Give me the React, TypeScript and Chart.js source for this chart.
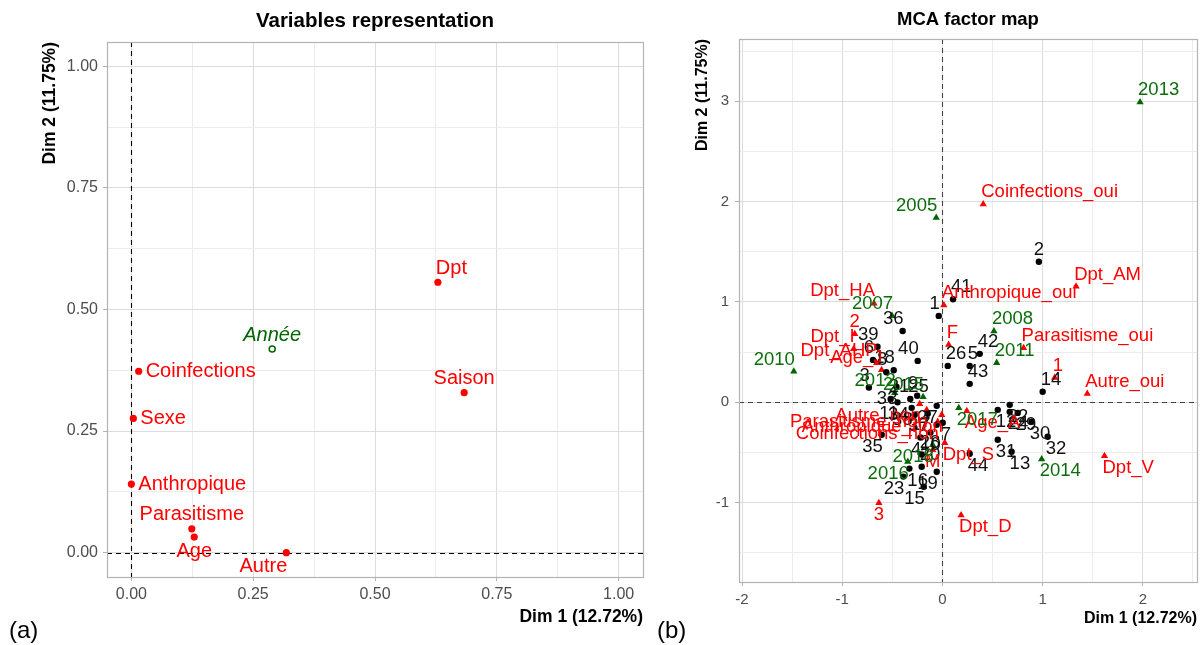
import React, { useEffect, useRef } from 'react';
import { Chart, registerables } from 'chart.js';

Chart.register(...registerables);

const FONT = '"Liberation Sans", Arial, Helvetica, sans-serif';

// ---------- Panel (a): Variables representation ----------
const varNames = ['Dpt', 'Saison', 'Coinfections', 'Sexe', 'Anthropique', 'Parasitisme', 'Age', 'Autre'];
const varDim1 = [0.629, 0.683, 0.015, 0.004, 0.0, 0.124, 0.129, 0.318];
const varDim2 = [0.556, 0.329, 0.373, 0.276, 0.141, 0.049, 0.032, 0.0];
const varLabelDir = ['tr', 't', 'r', 'r', 'r', 't', 'b', 'bl'];

const suppVarNames = ['Année'];
const suppVarDim1 = [0.289];
const suppVarDim2 = [0.419];
const suppVarLabelDir = ['t'];

const aMajorTicks = [0, 0.25, 0.5, 0.75, 1];
const aMinorTicks = [0.125, 0.375, 0.625, 0.875];

// ---------- Panel (b): MCA factor map ----------
const indNames = [
  '1', '2', '3', '4', '5', '6', '7', '8', '9', '10', '11', '12', '13', '14', '15', '16', '17', '18', '19', '20', '21', '22',
  '23', '24', '25', '26', '27', '28', '29', '30', '31', '32', '33', '34', '35', '36', '37', '38', '39', '40', '41', '42', '43', '44',
];
const indDim1 = [
  -0.037, 0.962, -0.734, -0.22, 0.272, -0.693, 0.003, -0.56, -0.252, -0.12, -0.448, 0.552, 0.69, 1.0, -0.187, -0.33, -0.058, -0.486,
  -0.057, -0.207, -0.517, 0.671, -0.39, 0.671, -0.321, 0.053, -0.057, -0.207, 0.751, 0.89, 0.552, 1.05, -0.459, -0.277, -0.606,
  -0.397, -0.147, -0.307, -0.648, -0.247, 0.106, 0.372, 0.272, 0.272,
];
const indDim2 = [
  0.861, 1.4, 0.148, -0.35, 0.363, 0.423, -0.204, 0.3, 0.066, -0.3, 0.0, -0.075, -0.493, 0.105, -0.841, -0.66, -0.224, 0.32,
  -0.692, -0.642, 0.033, -0.025, -0.74, -0.095, 0.033, 0.363, -0.035, -0.52, -0.105, -0.194, -0.373, -0.343, 0.156, -0.124, -0.323,
  0.711, -0.114, -0.055, 0.554, 0.413, 1.027, 0.483, 0.184, -0.512,
];
const indLabelDir = [
  'tl', 't', 'tl', 'bl', 'tr', 'tl', 'br', 'tl', 'tl', 'b', 'bl', 'br', 'br', 'tr', 'bl', 'br', 'l', 'tl', 'bl', 'tr', 'tr', 'br',
  'bl', 'br', 'tr', 'tr', 'bl', 'tr', 'br', 'br', 'br', 'br', 'bl', 'l', 'bl', 'tl', 'bl', 'bl', 'tl', 'tl', 'tr', 'tr', 'tr', 'br',
];

const catNames = [
  'Coinfections_oui', 'Dpt_AM', 'Anthropique_oui', 'F', 'Parasitisme_oui', '1', 'Autre_oui', 'Dpt_V', 'Dpt_D', 'Dpt_S', 'Age_A',
  '3', 'M', 'Dpt_HA', '2', 'Dpt_I', 'Dpt_AHP', 'Age_J', 'Autre_non', 'Parasitisme_non', 'Anthropique_non', 'Coinfections_non',
];
const catDim1 = [
  0.407, 1.334, 0.014, 0.062, 0.81, 1.12, 1.445, 1.617, 0.186, 0.023, 0.243, -0.634, -0.097, -0.683, -0.875, -0.886, -0.657, -0.607,
  -0.227, -0.157, -0.007, -0.047,
];
const catDim2 = [
  1.975, 1.154, 0.969, 0.575, 0.542, 0.246, 0.086, -0.534, -1.125, -0.403, -0.085, -1.002, -0.473, 0.986, 0.682, 0.532, 0.393, 0.323,
  -0.015, -0.075, -0.124, -0.194,
];
const catLabelDir = [
  'tr', 'tr', 'tr', 'tr', 'tr', 'tr', 'tr', 'br', 'br', 'br', 'br', 'b', 'b', 'tl', 't', 'tl', 'tl', 'tl', 'bl', 'bl', 'bl', 'bl',
];

const yearNames = ['2013', '2005', '2007', '2008', '2011', '2010', '2014', '2017', '2018', '2016', '2015', '2012'];
const yearDim1 = [1.972, -0.062, -0.503, 0.514, 0.541, -1.483, 0.99, 0.163, -0.097, -0.346, -0.193, -0.476];
const yearDim2 = [2.99, 1.84, 0.862, 0.71, 0.394, 0.308, -0.567, -0.055, -0.423, -0.592, 0.053, 0.094];
const yearLabelDir = ['tr', 'tl', 'tl', 'tr', 'tr', 'tl', 'br', 'br', 'bl', 'bl', 'tl', 'tl'];

const bXMajorTicks = [-2, -1, 0, 1, 2];
const bXMinorTicks = [-1.5, -0.5, 0.5, 1.5, 2.5];
const bYMajorTicks = [-1, 0, 1, 2, 3];
const bYMinorTicks = [-1.5, -0.5, 0.5, 1.5, 2.5, 3.5];

// ---------- helpers ----------
const toPoints = (xs: number[], ys: number[]) => xs.map((x, i) => ({ x, y: ys[i] }));

function drawLabel(ctx: CanvasRenderingContext2D, text: string, x: number, y: number, dir: string, off: number, gap: number) {
  let align: CanvasTextAlign = 'left';
  let tx = x;
  let ty = y;
  switch (dir) {
    case 't': align = 'center'; ty = y - off; break;
    case 'b': align = 'center'; ty = y + off; break;
    case 'tr': align = 'left'; tx = x - 2; ty = y - off; break;
    case 'tl': align = 'right'; tx = x + 1; ty = y - off; break;
    case 'br': align = 'left'; tx = x - 2; ty = y + off; break;
    case 'bl': align = 'right'; tx = x + 1; ty = y + off; break;
    case 'r': align = 'left'; tx = x + gap; break;
    case 'l': align = 'right'; tx = x - gap; break;
  }
  ctx.textAlign = align;
  ctx.textBaseline = 'middle';
  ctx.fillText(text, tx, ty);
}

const labelPlugin = {
  id: 'pointLabels',
  afterDatasetsDraw(chart: any) {
    const ctx = chart.ctx as CanvasRenderingContext2D;
    ctx.save();
    chart.data.datasets.forEach((ds: any, i: number) => {
      const cfg = ds.labelCfg;
      if (!cfg) return;
      const meta = chart.getDatasetMeta(i);
      ctx.fillStyle = cfg.color;
      ctx.font = cfg.font;
      meta.data.forEach((el: any, j: number) => {
        drawLabel(ctx, cfg.texts[j], el.x, el.y, cfg.dirs[j], cfg.off, cfg.gap);
      });
    });
    ctx.restore();
  },
};

function makeDecoPlugin(o: any) {
  return {
    id: 'deco',
    beforeDraw(chart: any) {
      const ctx = chart.ctx;
      ctx.save();
      ctx.fillStyle = '#ffffff';
      ctx.fillRect(0, 0, chart.width, chart.height);
      ctx.restore();
    },
    beforeDatasetsDraw(chart: any) {
      const ctx = chart.ctx as CanvasRenderingContext2D;
      const a = chart.chartArea;
      const x0 = Math.round(chart.scales.x.getPixelForValue(0)) + 0.5;
      const y0 = Math.round(chart.scales.y.getPixelForValue(0)) + 0.5;
      ctx.save();
      ctx.strokeStyle = o.dashColor;
      ctx.lineWidth = 1.1;
      ctx.setLineDash([5, 4]);
      ctx.beginPath();
      ctx.moveTo(x0, a.top);
      ctx.lineTo(x0, a.bottom);
      ctx.moveTo(a.left, y0);
      ctx.lineTo(a.right, y0);
      ctx.stroke();
      ctx.restore();
    },
    afterDraw(chart: any) {
      const ctx = chart.ctx as CanvasRenderingContext2D;
      const a = chart.chartArea;
      ctx.save();
      ctx.strokeStyle = '#B3B3B3';
      ctx.lineWidth = 1.2;
      ctx.strokeRect(Math.round(a.left) + 0.5, Math.round(a.top) + 0.5, Math.round(a.right - a.left), Math.round(a.bottom - a.top));
      ctx.fillStyle = '#000000';
      ctx.font = `bold ${o.titleSize}px ${FONT}`;
      ctx.textAlign = 'center';
      ctx.textBaseline = 'middle';
      ctx.fillText(o.title, (a.left + a.right) / 2, o.titleY);
      ctx.font = `bold ${o.axisTitleSize}px ${FONT}`;
      ctx.textAlign = 'right';
      ctx.fillText(o.xTitle, a.right, o.xTitleY);
      ctx.translate(o.yTitleX, a.top);
      ctx.rotate(-Math.PI / 2);
      ctx.textAlign = 'right';
      ctx.fillText(o.yTitle, 0, 0);
      ctx.restore();
    },
  };
}

function axis(min: number, max: number, major: number[], minor: number[], fmt: (v: number) => string, fontSize: number, pad: number, fit: (s: any) => void) {
  const all = [...major, ...minor].sort((p, q) => p - q);
  const isMajor = (v: any) => major.indexOf(v) >= 0;
  return {
    type: 'linear',
    min,
    max,
    afterBuildTicks: (s: any) => {
      s.ticks = all.map((v) => ({ value: v }));
    },
    afterFit: fit,
    ticks: {
      autoSkip: false,
      maxRotation: 0,
      minRotation: 0,
      padding: pad,
      color: '#4D4D4D',
      font: { family: FONT, size: fontSize },
      callback: (v: any) => (isMajor(v) ? fmt(v) : ''),
    },
    grid: {
      color: (c: any) => (isMajor(c.tick && c.tick.value) ? '#DCDCDC' : '#ECECEC'),
      lineWidth: 1,
      drawTicks: true,
      tickLength: 4,
      tickColor: (c: any) => (isMajor(c.tick && c.tick.value) ? '#B3B3B3' : 'rgba(0,0,0,0)'),
    },
    border: { display: false },
  };
}

function leftConfig(): any {
  return {
    type: 'scatter',
    data: {
      datasets: [
        {
          data: toPoints(varDim1, varDim2),
          pointStyle: 'circle',
          pointRadius: 3.6,
          backgroundColor: '#FF0000',
          borderWidth: 0,
          labelCfg: { texts: varNames, dirs: varLabelDir, color: '#FF0000', font: `20px ${FONT}`, off: 14, gap: 7 },
        },
        {
          data: toPoints(suppVarDim1, suppVarDim2),
          pointStyle: 'circle',
          pointRadius: 3,
          backgroundColor: '#FFFFFF',
          borderColor: '#006400',
          borderWidth: 1.5,
          labelCfg: { texts: suppVarNames, dirs: suppVarLabelDir, color: '#006400', font: `italic 20px ${FONT}`, off: 13, gap: 7 },
        },
      ],
    },
    options: {
      responsive: false,
      animation: false,
      devicePixelRatio: 1,
      events: [],
      layout: { padding: { left: 0, right: 12, top: 42, bottom: 0 } },
      plugins: { legend: { display: false }, tooltip: { enabled: false }, title: { display: false } },
      scales: {
        x: axis(-0.05, 1.05, aMajorTicks, aMinorTicks, (v) => v.toFixed(2), 16, 4, (s: any) => { s.height = 68; }),
        y: axis(-0.05, 1.05, aMajorTicks, aMinorTicks, (v) => v.toFixed(2), 16, 5, (s: any) => { s.width = 107; }),
      },
    },
    plugins: [
      makeDecoPlugin({
        title: 'Variables representation', titleSize: 20.5, titleY: 21,
        xTitle: 'Dim 1 (12.72%)', yTitle: 'Dim 2 (11.75%)', axisTitleSize: 17.5, xTitleY: 617, yTitleX: 50,
        dashColor: '#000000',
      }),
      labelPlugin,
    ],
  };
}

function rightConfig(): any {
  return {
    type: 'scatter',
    data: {
      datasets: [
        {
          data: toPoints(indDim1, indDim2),
          pointStyle: 'circle',
          pointRadius: 3.2,
          backgroundColor: '#000000',
          borderWidth: 0,
          labelCfg: { texts: indNames, dirs: indLabelDir, color: '#111111', font: `18.5px ${FONT}`, off: 12, gap: 6 },
        },
        {
          data: toPoints(catDim1, catDim2),
          pointStyle: 'triangle',
          pointRadius: 4.2,
          backgroundColor: '#FF0000',
          borderWidth: 0,
          labelCfg: { texts: catNames, dirs: catLabelDir, color: '#FF0000', font: `18.5px ${FONT}`, off: 12, gap: 6 },
        },
        {
          data: toPoints(yearDim1, yearDim2),
          pointStyle: 'triangle',
          pointRadius: 4.2,
          backgroundColor: '#006400',
          borderWidth: 0,
          labelCfg: { texts: yearNames, dirs: yearLabelDir, color: '#0B6E0B', font: `18.5px ${FONT}`, off: 12, gap: 6 },
        },
      ],
    },
    options: {
      responsive: false,
      animation: false,
      devicePixelRatio: 1,
      events: [],
      layout: { padding: { left: 0, right: 5, top: 39, bottom: 0 } },
      plugins: { legend: { display: false }, tooltip: { enabled: false }, title: { display: false } },
      scales: {
        x: axis(-2.03, 2.54, bXMajorTicks, bXMinorTicks, (v) => String(v), 15, 5, (s: any) => { s.height = 63; }),
        y: axis(-1.79, 3.62, bYMajorTicks, bYMinorTicks, (v) => String(v), 15, 6, (s: any) => { s.width = 84; }),
      },
    },
    plugins: [
      makeDecoPlugin({
        title: 'MCA factor map', titleSize: 18.5, titleY: 20,
        xTitle: 'Dim 1 (12.72%)', yTitle: 'Dim 2 (11.75%)', axisTitleSize: 16, xTitleY: 619, yTitleX: 48,
        dashColor: '#444444',
      }),
      labelPlugin,
    ],
  };
}

export default function App() {
  const leftRef = useRef<HTMLCanvasElement>(null);
  const rightRef = useRef<HTMLCanvasElement>(null);

  useEffect(() => {
    const c1 = new Chart(leftRef.current as HTMLCanvasElement, leftConfig());
    const c2 = new Chart(rightRef.current as HTMLCanvasElement, rightConfig());
    return () => {
      c1.destroy();
      c2.destroy();
    };
  }, []);

  const tag: React.CSSProperties = { position: 'absolute', font: `24px ${FONT}`, color: '#000', lineHeight: '28px' };

  return (
    <div style={{ position: 'fixed', left: 0, top: 0, width: 1202, height: 645, background: '#ffffff', overflow: 'hidden' }}>
      <canvas ref={leftRef} width={655} height={645} style={{ position: 'absolute', left: 0, top: 0, width: 655, height: 645 }} />
      <canvas ref={rightRef} width={547} height={645} style={{ position: 'absolute', left: 655, top: 0, width: 547, height: 645 }} />
      <span style={{ ...tag, left: 9, top: 616 }}>(a)</span>
      <span style={{ ...tag, left: 657, top: 616 }}>(b)</span>
    </div>
  );
}
